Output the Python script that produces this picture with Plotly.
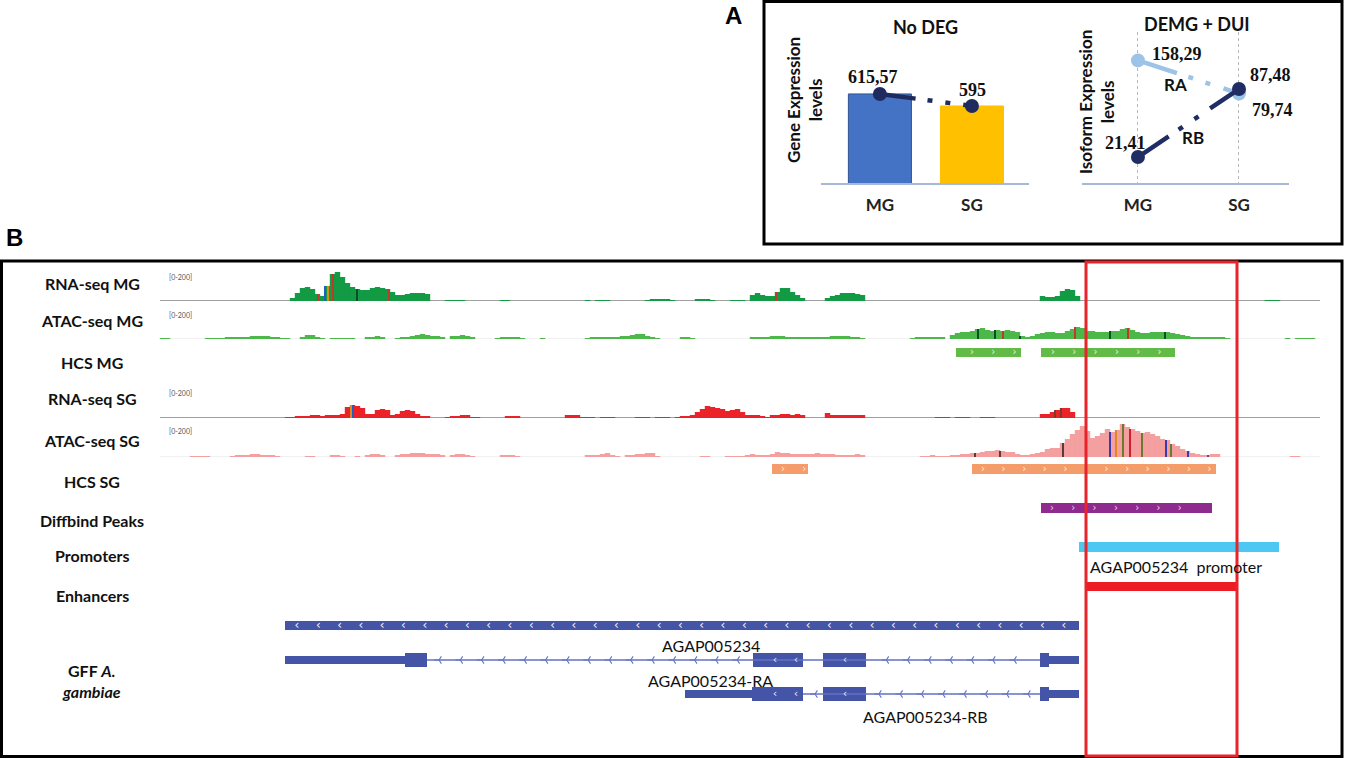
import math
import plotly.graph_objects as go

W, H = 1347, 758

# ---------------- panel A ----------------
tissues = ["MG", "SG"]
gene_expr = [615.57, 595]
gene_expr_text = ["615,57", "595"]
iso_ra = [158.29, 79.74]
iso_rb = [21.41, 87.48]
iso_ra_text = ["158,29", "79,74"]
iso_rb_text = ["21,41", "87,48"]

# ---------------- panel B ----------------
# coverage, 5-unit bins starting at position 160 (reads, track scale 0-200)
BIN0, BIN = 160, 5

rna_mg = [
    0, 0, 0, 0, 0, 0, 0, 0, 0, 0,
    0, 0, 0, 0, 0, 0, 0, 0, 0, 0,
    0, 0, 0, 0, 0, 0, 15, 40, 65, 70,
    60, 35, 25, 75, 135, 145, 120, 90, 70, 60,
    55, 55, 65, 70, 65, 60, 45, 30, 30, 35,
    40, 40, 40, 35, 0, 0, 0, 5, 5, 5,
    5, 0, 0, 0, 0, 0, 0, 0, 5, 5,
    0, 0, 0, 0, 0, 0, 0, 0, 0, 0,
    0, 0, 0, 0, 0, 5, 0, 5, 5, 5,
    0, 0, 0, 0, 0, 0, 0, 5, 10, 10,
    10, 10, 5, 0, 0, 0, 0, 10, 10, 10,
    5, 0, 0, 0, 5, 5, 5, 0, 30, 40,
    30, 25, 25, 45, 65, 65, 45, 30, 15, 0,
    0, 0, 0, 15, 25, 30, 40, 40, 40, 35,
    30, 0, 0, 0, 0, 0, 0, 0, 0, 0,
    0, 0, 0, 0, 0, 0, 0, 0, 0, 0,
    0, 0, 0, 0, 0, 0, 0, 0, 0, 0,
    0, 0, 0, 0, 0, 0, 25, 20, 20, 25,
    50, 60, 55, 25, 0, 0, 0, 0, 0, 0,
    0, 0, 0, 0, 0, 0, 0, 0, 0, 0,
    0, 0, 0, 0, 0, 0, 0, 0, 0, 0,
    0, 0, 0, 0, 0, 0, 0, 0, 0, 0,
    0, 5, 5, 5, 0, 0, 0, 0, 0, 0,
    0, 0,
]

atac_mg = [
    5, 5, 0, 0, 0, 0, 0, 0, 0, 5,
    5, 5, 5, 10, 10, 10, 10, 10, 15, 15,
    15, 15, 10, 10, 5, 5, 0, 0, 10, 20,
    20, 10, 5, 0, 5, 5, 5, 5, 5, 0,
    0, 10, 10, 15, 10, 0, 0, 5, 10, 10,
    15, 20, 25, 20, 15, 15, 10, 0, 15, 15,
    20, 15, 10, 0, 0, 0, 0, 5, 10, 10,
    10, 10, 5, 0, 0, 0, 5, 0, 0, 0,
    0, 0, 0, 0, 0, 5, 10, 10, 10, 10,
    10, 10, 15, 15, 20, 25, 25, 15, 10, 5,
    0, 0, 0, 0, 10, 10, 5, 0, 0, 0,
    0, 0, 0, 0, 0, 0, 0, 0, 10, 10,
    10, 10, 15, 15, 15, 10, 10, 10, 10, 10,
    10, 10, 10, 10, 15, 15, 15, 15, 10, 10,
    5, 0, 0, 0, 0, 0, 0, 0, 0, 0,
    5, 10, 10, 10, 10, 10, 10, 0, 20, 30,
    35, 35, 40, 50, 55, 45, 40, 45, 40, 45,
    40, 35, 15, 10, 15, 25, 30, 35, 35, 30,
    30, 40, 50, 60, 55, 40, 40, 35, 35, 35,
    40, 40, 50, 55, 45, 35, 30, 30, 35, 35,
    35, 35, 30, 25, 20, 15, 10, 10, 10, 10,
    10, 10, 10, 5, 0, 0, 0, 0, 0, 0,
    0, 0, 0, 0, 0, 5, 0, 5, 5, 5,
    5, 0,
]

rna_sg = [
    0, 0, 0, 0, 0, 0, 0, 0, 0, 0,
    0, 0, 0, 0, 0, 0, 0, 0, 0, 0,
    0, 0, 0, 0, 0, 5, 5, 10, 10, 10,
    15, 15, 10, 15, 15, 15, 20, 55, 65, 60,
    50, 20, 20, 40, 45, 40, 15, 20, 35, 40,
    35, 20, 10, 10, 0, 0, 0, 5, 10, 10,
    15, 15, 5, 5, 0, 0, 0, 0, 0, 10,
    10, 10, 0, 0, 0, 0, 0, 0, 0, 0,
    0, 15, 15, 15, 5, 5, 5, 0, 5, 5,
    5, 0, 0, 0, 0, 5, 5, 5, 0, 5,
    5, 5, 0, 5, 10, 10, 15, 30, 45, 60,
    55, 50, 45, 35, 40, 45, 30, 15, 15, 15,
    10, 5, 15, 15, 20, 20, 15, 20, 15, 0,
    0, 0, 0, 25, 15, 15, 15, 15, 15, 15,
    15, 0, 0, 0, 0, 0, 0, 0, 0, 0,
    0, 0, 0, 0, 0, 5, 5, 5, 0, 5,
    5, 5, 0, 0, 5, 5, 5, 0, 0, 0,
    0, 0, 0, 0, 0, 0, 20, 20, 30, 40,
    50, 50, 30, 0, 0, 0, 0, 0, 0, 0,
    0, 0, 0, 0, 0, 0, 0, 0, 0, 0,
    0, 0, 0, 0, 0, 0, 0, 0, 0, 0,
    0, 0, 0, 0, 0, 0, 0, 0, 0, 0,
    0, 0, 0, 0, 0, 0, 0, 0, 0, 0,
    0, 0,
]

atac_sg = [
    0, 0, 0, 0, 0, 0, 5, 5, 5, 5,
    0, 0, 0, 0, 5, 10, 10, 10, 15, 15,
    10, 10, 10, 5, 0, 0, 0, 0, 0, 5,
    5, 0, 0, 0, 10, 10, 5, 0, 0, 5,
    0, 10, 15, 15, 10, 0, 0, 10, 15, 15,
    20, 20, 20, 15, 15, 15, 10, 0, 10, 15,
    15, 10, 5, 0, 0, 0, 0, 0, 10, 10,
    10, 5, 0, 0, 0, 0, 0, 0, 0, 0,
    0, 0, 0, 0, 0, 10, 10, 10, 15, 20,
    10, 5, 0, 10, 10, 15, 15, 20, 20, 5,
    0, 0, 0, 0, 0, 0, 0, 0, 5, 5,
    0, 0, 0, 5, 5, 5, 5, 10, 15, 10,
    10, 10, 15, 25, 20, 20, 15, 15, 15, 15,
    15, 20, 15, 15, 15, 10, 10, 10, 10, 15,
    10, 0, 0, 0, 0, 0, 0, 0, 0, 0,
    0, 0, 5, 5, 10, 5, 5, 5, 10, 10,
    15, 15, 20, 20, 25, 30, 30, 35, 30, 25,
    25, 15, 10, 10, 15, 20, 25, 40, 45, 45,
    70, 90, 115, 135, 155, 130, 95, 105, 120, 140,
    125, 135, 165, 150, 140, 130, 120, 125, 115, 105,
    90, 85, 65, 55, 40, 30, 20, 15, 10, 10,
    15, 15, 0, 0, 0, 0, 0, 0, 0, 0,
    0, 0, 0, 0, 0, 0, 5, 5, 0, 0,
    0, 0,
]

# mismatch positions drawn as thin coloured ticks
rna_mg_snp = [318, 325, 328, 333, 357, 389, 776]
atac_mg_snp = [978, 995, 1003, 1020, 1075, 1110, 1128, 1165]
rna_sg_snp = [351, 353, 1055, 1061]
atac_sg_snp = [975, 1000, 1063, 1110, 1116, 1123, 1130, 1142, 1166, 1171, 1188, 1208]

# feature intervals (start, end)
hcs_mg = [(956, 1021), (1041, 1175)]
hcs_sg = [(772, 808), (972, 1216)]
diffbind = [(1041, 1212)]
promoters = [(1079, 1279)]
enhancers = [(1086, 1237)]
gene = [(285, 1079)]
ra_utr = [(285, 405), (1049, 1079)]
ra_exons = [(405, 427), (753, 803), (823, 866), (1040, 1049)]
rb_utr = [(685, 752), (1049, 1079)]
rb_exons = [(752, 803), (823, 866), (1040, 1049)]
highlight = (1086, 1237)

track_names = ["RNA-seq MG", "ATAC-seq MG", "HCS MG", "RNA-seq SG", "ATAC-seq SG",
               "HCS SG", "Diffbind Peaks", "Promoters", "Enhancers"]

CAL = "Lato"
SERIF = "Liberation Serif"


def fx(p):
    return p / W


def fy(p):
    return 1 - p / H


fig = go.Figure()

# ---------- coverage tracks ----------
tracks = [
    (rna_mg, "#139a44", 301, "y2", rna_mg_snp, ["#c0392b", "#1f5fbf", "#e08a1e", "#c0392b", "#0b4f2a", "#c0392b", "#c0392b"]),
    (atac_mg, "#4cb84a", 339, "y3", atac_mg_snp, ["#0b4f2a", "#0b4f2a", "#c0392b", "#0b4f2a", "#c0392b", "#0b4f2a", "#c0392b", "#0b4f2a"]),
    (rna_sg, "#ec2229", 418, "y4", rna_sg_snp, ["#e08a1e", "#1f5fbf", "#7a3b2e", "#7a3b2e"]),
    (atac_sg, "#f4a0a0", 457, "y5", atac_sg_snp, ["#5b3a3a", "#5b3a3a", "#5b3a3a", "#3b3bb0", "#e08a1e", "#6b7a2e",
                                                   "#d02030", "#6b7a2e", "#3b3bb0", "#6b7a2e", "#3b3bb0", "#5b4a8e"]),
]
for vals, color, base, ax, snp, snp_col in tracks:
    xs = [BIN0 + BIN * i + BIN / 2 for i in range(len(vals))]
    fig.add_trace(go.Bar(x=xs, y=vals, width=BIN + 0.4, marker=dict(color=color, line_width=0),
                         xaxis="x", yaxis=ax, hoverinfo="skip", showlegend=False))
    snp_h = [vals[(p - BIN0) // BIN] for p in snp]
    fig.add_trace(go.Bar(x=snp, y=snp_h, width=1.3, marker=dict(color=snp_col, line_width=0),
                         xaxis="x", yaxis=ax, hoverinfo="skip", showlegend=False))

# ---------- feature tracks ----------
row_y = {"hcs_mg": 352.5, "hcs_sg": 469, "diffbind": 508, "prom": 547, "enh": 586.5,
         "gene": 625.5, "ra": 660, "rb": 694}


def add_blocks(blocks, row, h, color):
    fig.add_trace(go.Bar(orientation="h", y=[row_y[row]] * len(blocks),
                         x=[e - s for s, e in blocks], base=[s for s, e in blocks],
                         width=h, marker=dict(color=color, line_width=0),
                         xaxis="x", yaxis="y", hoverinfo="skip", showlegend=False))


def chevron_x(first, last, step=21.3, skip=()):
    xs = []
    p = first
    while p <= last:
        if not any(s - 4 <= p <= e + 4 for s, e in skip):
            xs.append(p)
        p += step
    return xs


def add_chevrons(first, last, row, glyph, color, size=11, step=21.3):
    xs = chevron_x(first, last, step)
    fig.add_trace(go.Scatter(x=xs, y=[row_y[row]] * len(xs), mode="text", text=[glyph] * len(xs),
                             textfont=dict(color=color, size=size, family="DejaVu Sans"),
                             textposition="middle center", xaxis="x", yaxis="y",
                             hoverinfo="skip", showlegend=False))


def add_intron(x0, x1, row, exons):
    fig.add_trace(go.Scatter(x=[x0, x1], y=[row_y[row]] * 2, mode="lines",
                             line=dict(color="#6272c4", width=1.3), xaxis="x", yaxis="y",
                             hoverinfo="skip", showlegend=False))
    xs = chevron_x(x0 + 12, x1 - 6, skip=exons)
    fig.add_trace(go.Scatter(x=xs, y=[row_y[row]] * len(xs), mode="markers",
                             marker=dict(symbol="y-left", size=6, color="#6272c4",
                                         line=dict(color="#6272c4", width=1.1)),
                             xaxis="x", yaxis="y", hoverinfo="skip", showlegend=False))


add_blocks(hcs_mg, "hcs_mg", 9, "#62bb46")
add_chevrons(972, 1015, "hcs_mg", "›", "rgba(255,255,255,0.85)", 10)
add_chevrons(1053, 1165, "hcs_mg", "›", "rgba(255,255,255,0.85)", 10)
add_blocks(hcs_sg, "hcs_sg", 10, "#f59c6b")
add_chevrons(783, 805, "hcs_sg", "›", "rgba(255,255,255,0.85)", 10)
add_chevrons(983, 1210, "hcs_sg", "›", "rgba(255,255,255,0.85)", 10, step=20.6)
add_blocks(diffbind, "diffbind", 10, "#8f2a8f")
add_chevrons(1052, 1200, "diffbind", "›", "rgba(255,255,255,0.8)", 10)
add_blocks(promoters, "prom", 10, "#4cc8f2")
add_blocks(enhancers, "enh", 9, "#ed1c24")
add_blocks(gene, "gene", 9, "#4455a8")
add_chevrons(297, 1072, "gene", "‹", "rgba(255,255,255,0.95)", 12)

add_intron(427, 1040, "ra", ra_exons)
add_blocks(ra_utr, "ra", 8, "#4455a8")
add_blocks(ra_exons, "ra", 14, "#4455a8")
add_chevrons(775, 796, "ra", "‹", "rgba(255,255,255,0.9)", 11, step=21)
add_chevrons(845, 846, "ra", "‹", "rgba(255,255,255,0.9)", 11)

add_intron(803, 1040, "rb", rb_exons)
add_blocks(rb_utr, "rb", 8, "#4455a8")
add_blocks(rb_exons, "rb", 14, "#4455a8")
add_chevrons(775, 796, "rb", "‹", "rgba(255,255,255,0.9)", 11, step=21)
add_chevrons(845, 846, "rb", "‹", "rgba(255,255,255,0.9)", 11)

# ---------- panel A: gene expression ----------
navy = "#1f2a5e"
fig.add_trace(go.Bar(x=tissues, y=gene_expr, width=0.685,
                     marker=dict(color=["#4472c4", "#ffc000"], line=dict(color=["#2f528f", "#ffc000"], width=1)),
                     xaxis="x2", yaxis="y6", hoverinfo="skip", showlegend=False))
fig.add_trace(go.Scatter(x=tissues, y=gene_expr, mode="lines+markers",
                         line=dict(color=navy, width=4.5, dash="36px,12px,5px,13px,5px,13px"),
                         marker=dict(size=14, color=navy), xaxis="x2", yaxis="y6",
                         hoverinfo="skip", showlegend=False))

# ---------- panel A: isoform expression ----------
fig.add_trace(go.Scatter(x=tissues, y=iso_ra, mode="lines+markers",
                         line=dict(color="#9dc3e6", width=4.5, dash="41px,12px,5px,13px,5px,14px"),
                         marker=dict(size=14, color="#9dc3e6"), xaxis="x3", yaxis="y7",
                         hoverinfo="skip", showlegend=False))
fig.add_trace(go.Scatter(x=tissues, y=iso_rb, mode="lines+markers",
                         line=dict(color="#1f2d64", width=4.5, dash="37px,12px,5px,14px,5px,14px"),
                         marker=dict(size=14, color="#1f2d64"), xaxis="x3", yaxis="y7",
                         hoverinfo="skip", showlegend=False))

# ---------- annotations ----------
ann = []


def label(text, x, y, size=16, bold=True, family=CAL, xanchor="center", angle=0, color="#111"):
    t = f"<b>{text}</b>" if bold else text
    ann.append(dict(text=t, x=fx(x), y=fy(y), xref="paper", yref="paper", showarrow=False,
                    xanchor=xanchor, yanchor="middle", textangle=angle,
                    font=dict(family=family, size=size, color=color)))


label_y = [284, 321, 363, 398, 440, 481, 520, 555, 595]
for name, yy in zip(track_names, label_y):
    label(name, 92, yy)
label("GFF <i>A.</i>", 91, 670)
label("<i>gambiae</i>", 91, 691)
for yy in [277, 315, 393, 431]:
    label("[0-200]", 180, yy, size=7, bold=False, color="#555")

label("A", 733, 16, size=24, family="Liberation Sans", color="#000")
label("B", 14, 237, size=24, family="Liberation Sans", color="#000")
label("No DEG", 925, 27, size=18)
label("DEMG + DUI", 1197, 24, size=18)
label("Gene Expression<br>levels", 805, 100, size=17, angle=-90)
label("Isoform Expression<br>levels", 1096, 102, size=17, angle=-90)
label("RA", 1175, 85, size=17)
label("RB", 1193, 137, size=17)

# feature names
ann.append(dict(text="AGAP005234  promoter", x=1176, y=566, xref="x", yref="y", showarrow=False,
                font=dict(family=CAL, size=16, color="#111")))
ann.append(dict(text="AGAP005234", x=711, y=645, xref="x", yref="y", showarrow=False,
                font=dict(family=CAL, size=16, color="#111")))
ann.append(dict(text="AGAP005234-RA", x=710, y=680, xref="x", yref="y", showarrow=False,
                font=dict(family=CAL, size=16, color="#111")))
ann.append(dict(text="AGAP005234-RB", x=925, y=716, xref="x", yref="y", showarrow=False,
                font=dict(family=CAL, size=16, color="#111")))

# value labels
num_font = dict(family=SERIF, size=18, color="#111")
ann.append(dict(text=f"<b>{gene_expr_text[0]}</b>", x=0, y=gene_expr[0], xref="x2", yref="y6",
                showarrow=False, xshift=-7, yshift=17, font=num_font))
ann.append(dict(text=f"<b>{gene_expr_text[1]}</b>", x=1, y=gene_expr[1], xref="x2", yref="y6",
                showarrow=False, xshift=1, yshift=16, font=num_font))
ann.append(dict(text=f"<b>{iso_ra_text[0]}</b>", x=0, y=math.log10(iso_ra[0]), xref="x3", yref="y7",
                showarrow=False, xanchor="left", xshift=12, yshift=6, font=num_font))
ann.append(dict(text=f"<b>{iso_ra_text[1]}</b>", x=1, y=math.log10(iso_ra[1]), xref="x3", yref="y7",
                showarrow=False, xanchor="left", xshift=11, yshift=-16, font=num_font))
ann.append(dict(text=f"<b>{iso_rb_text[0]}</b>", x=0, y=math.log10(iso_rb[0]), xref="x3", yref="y7",
                showarrow=False, xanchor="right", xshift=10, yshift=14, font=num_font))
ann.append(dict(text=f"<b>{iso_rb_text[1]}</b>", x=1, y=math.log10(iso_rb[1]), xref="x3", yref="y7",
                showarrow=False, xanchor="left", xshift=9, yshift=14, font=num_font))

# ---------- shapes ----------
shapes = [
    dict(type="rect", xref="paper", yref="paper", x0=fx(764), x1=fx(1342), y0=fy(244), y1=fy(1.5),
         line=dict(color="#000", width=3)),
    dict(type="rect", xref="paper", yref="paper", x0=fx(1.5), x1=fx(1342), y0=fy(756.5), y1=fy(261),
         line=dict(color="#000", width=3)),
    dict(type="rect", xref="x", yref="paper", x0=highlight[0], x1=highlight[1], y0=fy(756), y1=fy(262),
         line=dict(color="#e8232a", width=3), layer="above"),
]
for ax, col, w in [("y2", "#a0a0a0", 2), ("y4", "#a0a0a0", 2), ("y3", "#ececec", 1.5), ("y5", "#ececec", 1.5)]:
    shapes.append(dict(type="line", xref="x", yref=ax, x0=160, x1=1320, y0=0, y1=0,
                       line=dict(color=col, width=w), layer="below"))

layout_axes = {}
for ax, base in [("yaxis2", 301), ("yaxis3", 339), ("yaxis4", 418), ("yaxis5", 457)]:
    layout_axes[ax] = dict(domain=[fy(base), fy(base - 40)], range=[0, 200], visible=False,
                           anchor="x", fixedrange=True)

fig.update_layout(
    width=W, height=H, margin=dict(l=0, r=0, t=0, b=0),
    paper_bgcolor="white", plot_bgcolor="rgba(0,0,0,0)",
    barmode="overlay", showlegend=False,
    font=dict(family=CAL),
    xaxis=dict(domain=[0, 1], range=[0, W], visible=False, anchor="y", fixedrange=True),
    yaxis=dict(domain=[0, 1], range=[H, 0], visible=False, anchor="x", fixedrange=True),
    xaxis2=dict(domain=[fx(821), fx(1029)], type="category", range=[-0.64, 1.62], anchor="y6",
                showline=True, linecolor="#a8b8d8", linewidth=1.5, showgrid=False, ticks="",
                ticklabelstandoff=6,
                tickfont=dict(family=CAL, size=17, color="#222", weight="bold")),
    yaxis6=dict(domain=[fy(183), fy(40)], range=[463, 708], visible=False, anchor="x2"),
    xaxis3=dict(domain=[fx(1082), fx(1289)], type="category", range=[-0.554, 1.495], anchor="y7",
                showline=True, linecolor="#a8b8d8", linewidth=1.5, showgrid=True,
                gridcolor="#b8b8b8", griddash="dot", gridwidth=1, ticks="",
                ticklabelstandoff=6,
                tickfont=dict(family=CAL, size=17, color="#222", weight="bold")),
    yaxis7=dict(domain=[fy(183), fy(32)], type="log", range=[1.0975, 2.4548], visible=False,
                anchor="x3"),
    annotations=ann,
    shapes=shapes,
    **layout_axes,
)

fig.write_html("out.html", config={"displayModeBar": False},
               post_script="document.body.style.margin='0px';")
